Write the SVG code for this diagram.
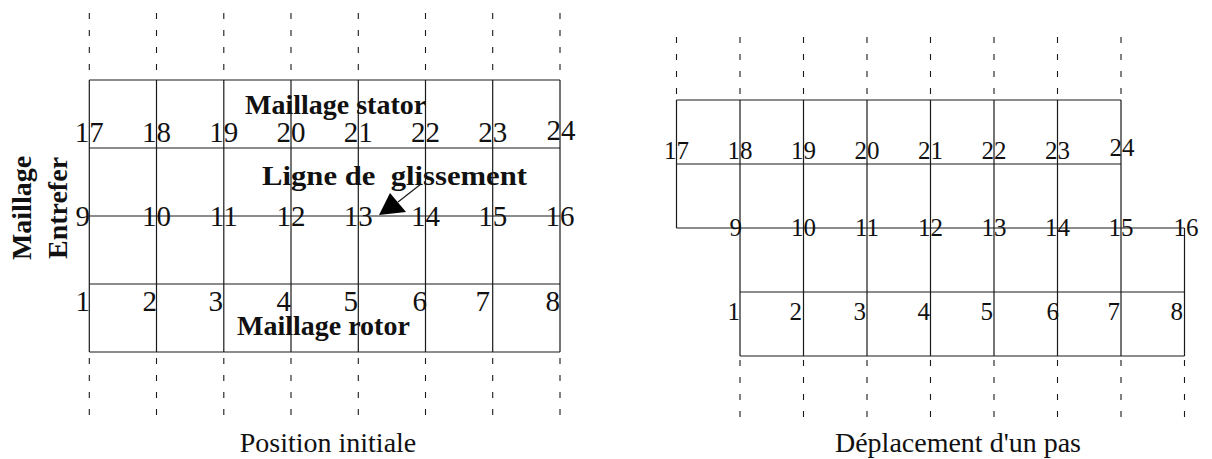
<svg xmlns="http://www.w3.org/2000/svg" width="1212" height="459" viewBox="0 0 1212 459">
<style>
.ln{stroke:#1a1a1a;stroke-width:1.2;fill:none}
.ds{stroke:#1a1a1a;stroke-width:1.1;fill:none;stroke-dasharray:6 11}
.nL{font-family:"Liberation Serif",serif;font-size:29px;fill:#111}
.nR{font-family:"Liberation Serif",serif;font-size:25px;fill:#111}
.b{font-family:"Liberation Serif",serif;font-weight:bold;font-size:28px;fill:#111}
.cap{font-family:"Liberation Serif",serif;font-size:28px;fill:#111;text-anchor:middle}
.m{text-anchor:middle}
.e{text-anchor:end}
</style>
<rect width="1212" height="459" fill="#fff"/>

<g id="connectors">
<g id="left-grid">
<path class="ln" d="M89.3 80H560M89.3 148H560M89.3 216H560M89.3 284H560M89.3 352H560"/>
<path class="ln" d="M89.3 80V352M156.5 80V352M223.8 80V352M291 80V352M358.3 80V352M425.5 80V352M492.7 80V352M560 80V352"/>
<path class="ds" d="M89.3 13V76M156.5 13V76M223.8 13V76M291 13V76M358.3 13V76M425.5 13V76M492.7 13V76M560 13V76"/>
<path class="ds" d="M89.3 358V421M156.5 358V421M223.8 358V421M291 358V421M358.3 358V421M425.5 358V421M492.7 358V421M560 358V421"/>
</g>
<g id="right-grid">
<path class="ln" d="M676.5 100H1121M676.5 164H1121M676.5 228H1184.5M740 292H1184.5M740 356H1184.5"/>
<path class="ln" d="M676.5 100V228M740 100V356M803.5 100V356M867 100V356M930.5 100V356M994 100V356M1057.5 100V356M1121 100V356M1184.5 228V356"/>
<path class="ds" d="M676.5 37V96M740 37V96M803.5 37V96M867 37V96M930.5 37V96M994 37V96M1057.5 37V96M1121 37V96"/>
<path class="ds" d="M740 360V421M803.5 360V421M867 360V421M930.5 360V421M994 360V421M1057.5 360V421M1121 360V421M1184.5 360V421"/>
</g>
<g id="arrow">
<line class="ln" x1="421" y1="184" x2="398" y2="202"/>
<polygon points="379,215 390,193 406,212" fill="#000"/>
</g>
</g>

<g id="left-numbers">
<g class="nL m">
<text x="89.3" y="142">17</text><text x="156.5" y="142">18</text><text x="223.8" y="142">19</text><text x="291" y="142">20</text>
<text x="358.3" y="142">21</text><text x="425.5" y="142">22</text><text x="492.7" y="142">23</text><text x="561" y="140">24</text>
<text x="156.5" y="226">10</text><text x="223.8" y="226">11</text><text x="291" y="226">12</text><text x="358.3" y="226">13</text>
<text x="425.5" y="226">14</text><text x="492.7" y="226">15</text><text x="560" y="226">16</text>
</g>
<g class="nL e">
<text x="90" y="226">9</text>
<text x="90" y="311">1</text><text x="157" y="311">2</text><text x="223" y="311">3</text><text x="291" y="311">4</text>
<text x="358" y="311">5</text><text x="427" y="311">6</text><text x="490" y="311">7</text><text x="560" y="311">8</text>
</g>
</g>

<g id="right-numbers">
<g class="nR m">
<text x="676.5" y="159">17</text><text x="740" y="159">18</text><text x="803.5" y="159">19</text><text x="867" y="159">20</text>
<text x="930.5" y="159">21</text><text x="994" y="159">22</text><text x="1057.5" y="159">23</text><text x="1122" y="156">24</text>
<text x="803.5" y="236">10</text><text x="867" y="236">11</text><text x="930.5" y="236">12</text><text x="994" y="236">13</text>
<text x="1057.5" y="236">14</text><text x="1121" y="236">15</text><text x="1186" y="236">16</text>
</g>
<g class="nR e">
<text x="742" y="236">9</text>
<text x="740" y="320">1</text><text x="802" y="320">2</text><text x="866" y="320">3</text><text x="930" y="320">4</text>
<text x="993" y="320">5</text><text x="1059" y="320">6</text><text x="1120" y="320">7</text><text x="1183" y="320">8</text>
</g>
</g>

<g id="labels">
<text class="b" x="245" y="114">Maillage stator</text>
<text class="b" x="262" y="185" font-size="29" textLength="265" lengthAdjust="spacingAndGlyphs" xml:space="preserve">Ligne de  glissement</text>
<text class="b" x="237" y="335">Maillage rotor</text>
<text class="b m" transform="translate(31,208) rotate(-90)" font-size="29">Maillage</text>
<text class="b m" transform="translate(67,208) rotate(-90)" font-size="29">Entrefer</text>
<text class="cap" x="328" y="452">Position initiale</text>
<text class="cap" x="958" y="452">Déplacement d'un pas</text>
</g>
</svg>
